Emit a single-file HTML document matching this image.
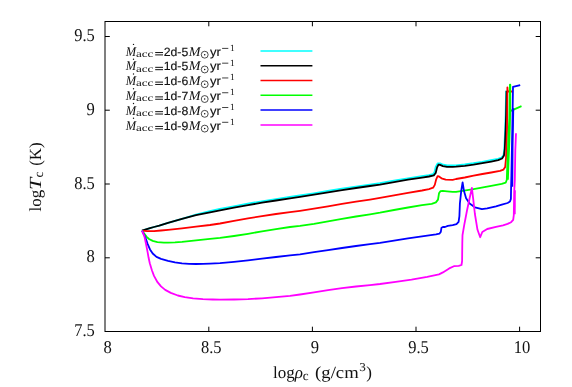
<!DOCTYPE html>
<html><head><meta charset="utf-8"><title>plot</title>
<style>
html,body{margin:0;padding:0;background:#fff;}
body{width:572px;height:387px;overflow:hidden;}
svg{display:block;will-change:transform;text-rendering:geometricPrecision;}
text{font-family:"Liberation Serif",serif;fill:#111;}
.ss{font-family:"Liberation Sans",sans-serif;stroke:#111;stroke-width:0.15px;}
.it{font-style:italic;}
</style></head><body>
<svg width="572" height="387" viewBox="0 0 572 387">
<rect x="0" y="0" width="572" height="387" fill="#fff"/>
<g transform="translate(0,0.3)">
<polyline points="142.0,230.3 150.0,227.9 154.0,226.7 159.3,225.3 168.0,222.6 182.0,218.6 195.9,214.4 209.8,210.9 219.7,208.7 233.7,206.0 247.7,203.4 261.8,201.0 275.8,198.8 289.8,196.6 299.8,195.2 313.8,193.0 327.8,190.6 341.8,188.4 355.8,186.3 369.8,184.3 379.8,182.9 393.8,180.4 407.8,178.0 421.8,175.9 428.7,174.8 433.1,173.8 434.4,172.1 435.7,166.6 437.6,163.2 440.6,163.2 443.3,164.4 447.2,165.1 452.7,165.2 455.9,165.0 464.6,164.1 473.4,162.9 482.2,161.5 490.9,159.9 497.8,158.5 501.5,157.4 503.5,155.1 504.3,148.5 505.1,130.0 505.6,115.0 506.1,90.5" fill="none" stroke="#00ffff" stroke-width="1.8" stroke-linejoin="round" stroke-linecap="butt"/>
<polyline points="142.0,230.3 150.0,227.9 154.0,226.7 159.3,225.3 168.0,222.6 182.0,218.6 196.0,214.9 210.0,212.0 220.0,210.1 234.0,207.4 248.0,204.8 262.0,202.4 276.0,200.2 290.0,198.0 300.0,196.6 314.0,194.4 328.0,192.0 342.0,189.8 356.0,187.7 370.0,185.7 380.0,184.3 394.0,181.8 408.0,179.4 422.0,177.3 429.0,176.2 433.8,175.1 435.7,172.7 437.1,167.1 438.5,164.3 440.1,164.6 442.9,165.8 447.1,166.5 452.7,166.6 456.0,166.4 464.8,165.5 473.6,164.3 482.4,162.9 491.2,161.3 498.2,159.9 502.1,158.2 504.0,155.2 504.8,148.5 505.6,130.0 506.1,115.0 506.6,90.5" fill="none" stroke="#000000" stroke-width="1.8" stroke-linejoin="round" stroke-linecap="butt"/>
<polyline points="142.0,230.3 147.2,230.9 154.0,230.8 161.0,230.2 168.0,229.6 182.0,228.1 196.0,226.4 210.0,224.7 220.0,223.2 234.0,220.5 248.0,218.1 262.0,215.8 276.0,213.7 290.0,211.8 300.0,210.5 314.0,208.4 328.0,206.0 342.0,203.6 356.0,201.4 370.0,199.3 380.0,197.6 394.0,195.1 408.0,192.5 422.0,190.2 429.0,188.8 433.1,187.4 434.8,184.6 436.2,179.0 437.6,175.9 439.0,176.2 441.5,178.0 445.7,179.3 452.7,179.5 456.0,178.7 464.8,177.2 473.6,175.4 482.4,173.7 491.2,172.2 500.0,170.6 503.5,169.3 505.2,166.6 506.0,158.0 506.5,145.0 507.0,130.0 507.4,87.0 507.7,91.2 512.0,91.2" fill="none" stroke="#ff0000" stroke-width="1.8" stroke-linejoin="round" stroke-linecap="butt"/>
<polyline points="142.0,230.3 144.4,233.4 146.4,236.3 149.0,238.7 152.7,240.6 157.4,241.8 163.9,242.3 168.0,242.3 175.0,242.1 182.0,241.6 196.0,240.1 210.0,238.5 220.0,237.6 234.0,235.7 248.0,233.5 262.0,231.1 276.0,228.8 290.0,226.7 300.0,225.6 314.0,223.5 328.0,221.0 342.0,218.6 356.0,216.2 370.0,214.0 380.0,212.4 394.0,209.7 408.0,207.2 422.0,204.9 431.7,203.5 435.9,202.1 438.0,199.3 439.0,193.0 440.4,190.9 442.9,190.6 447.1,191.0 452.7,191.6 456.0,191.6 473.6,188.8 491.2,185.6 501.7,183.6 505.7,182.4 506.8,179.5 507.2,168.0 508.3,140.0 509.3,118.0 509.9,84.4 510.3,84.4 510.2,110.8 521.5,105.9" fill="none" stroke="#00ff00" stroke-width="1.8" stroke-linejoin="round" stroke-linecap="butt"/>
<polyline points="510.2,110.8 509.9,125.0 509.4,140.0 508.3,168.0 507.9,179.5" fill="none" stroke="#00ff00" stroke-width="1.8" stroke-linejoin="round" stroke-linecap="butt"/>
<polyline points="142.0,230.3 145.3,237.0 147.6,243.5 150.0,249.1 152.7,253.2 156.5,256.6 161.0,258.6 168.0,260.6 175.0,262.1 182.0,263.0 189.0,263.5 196.0,263.7 203.0,263.5 210.0,263.3 220.0,262.9 234.0,261.5 248.0,260.1 262.0,258.4 276.0,256.7 290.0,255.0 300.0,254.0 314.0,251.9 328.0,249.8 342.0,247.7 356.0,245.7 370.0,243.8 380.0,242.6 394.0,240.4 408.0,238.1 422.0,236.0 436.0,234.1 439.4,233.4 440.8,231.6 441.5,227.4 442.9,226.7 445.0,226.7 447.8,225.6 452.7,224.8 456.5,223.8 458.6,221.6 459.4,215.8 459.9,203.2 461.2,190.8 462.6,182.0 464.0,190.8 466.1,197.9 469.6,203.2 474.9,207.0 481.9,208.8 487.2,208.1 496.0,206.0 501.8,204.4 507.6,202.7 510.0,201.2 510.9,198.6 511.1,187.0 511.4,175.0 512.0,145.0 512.5,118.0 513.0,86.6 520.2,84.8" fill="none" stroke="#0000ff" stroke-width="1.8" stroke-linejoin="round" stroke-linecap="butt"/>
<polyline points="513.3,108.0 512.6,145.0 512.3,186.4" fill="none" stroke="#0000ff" stroke-width="1.8" stroke-linejoin="round" stroke-linecap="butt"/>
<polyline points="142.0,230.3 144.4,236.1 146.2,244.5 147.6,251.9 148.6,257.5 149.8,263.0 151.9,270.0 154.0,275.6 157.5,281.9 161.0,286.1 165.2,289.6 170.8,292.6 177.8,295.2 184.8,296.8 193.1,298.0 202.9,298.8 212.7,299.2 220.0,299.4 234.0,299.2 248.0,298.8 262.0,298.0 276.0,296.9 290.0,295.6 300.0,294.2 314.0,292.0 328.0,289.8 342.0,287.8 356.0,286.2 370.0,284.8 380.0,283.7 395.7,281.5 411.5,279.3 427.2,276.5 439.0,274.1 442.9,272.1 449.2,268.1 453.9,265.9 458.7,265.5 461.5,264.7 462.1,260.7 462.3,243.0 462.5,234.8 464.3,224.3 467.0,210.2 469.6,197.9 471.9,187.7 473.1,197.9 474.9,213.7 477.5,229.5 480.2,236.9 482.3,231.7 487.2,228.7 496.0,226.6 503.0,225.0 507.6,223.6 511.1,221.9 513.2,219.5 513.8,214.9 514.2,191.6 514.8,180.0 515.3,150.0 516.0,133.0" fill="none" stroke="#ff00ff" stroke-width="1.8" stroke-linejoin="round" stroke-linecap="butt"/>
<polyline points="514.9,190.0 514.8,214.0" fill="none" stroke="#ff00ff" stroke-width="1.8" stroke-linejoin="round" stroke-linecap="butt"/>
</g>
<g stroke="#000" stroke-width="1" fill="none">
<rect x="105.0" y="21.5" width="435.5" height="310.0"/>
<line x1="208.8" y1="331.5" x2="208.8" y2="326.7"/>
<line x1="208.8" y1="21.5" x2="208.8" y2="26.3"/>
<line x1="312.4" y1="331.5" x2="312.4" y2="326.7"/>
<line x1="312.4" y1="21.5" x2="312.4" y2="26.3"/>
<line x1="416.0" y1="331.5" x2="416.0" y2="326.7"/>
<line x1="416.0" y1="21.5" x2="416.0" y2="26.3"/>
<line x1="519.6" y1="331.5" x2="519.6" y2="326.7"/>
<line x1="519.6" y1="21.5" x2="519.6" y2="26.3"/>
<line x1="105.0" y1="257.8" x2="109.8" y2="257.8"/>
<line x1="540.5" y1="257.8" x2="535.7" y2="257.8"/>
<line x1="105.0" y1="184.0" x2="109.8" y2="184.0"/>
<line x1="540.5" y1="184.0" x2="535.7" y2="184.0"/>
<line x1="105.0" y1="110.2" x2="109.8" y2="110.2"/>
<line x1="540.5" y1="110.2" x2="535.7" y2="110.2"/>
<line x1="105.0" y1="36.5" x2="109.8" y2="36.5"/>
<line x1="540.5" y1="36.5" x2="535.7" y2="36.5"/>
</g>
<text x="74.2" y="336.1" font-size="18.1" textLength="20.6" lengthAdjust="spacingAndGlyphs">7.5</text>
<text x="86.5" y="262.4" font-size="18.1" textLength="8.3" lengthAdjust="spacingAndGlyphs">8</text>
<text x="74.2" y="188.6" font-size="18.1" textLength="20.6" lengthAdjust="spacingAndGlyphs">8.5</text>
<text x="86.5" y="114.8" font-size="18.1" textLength="8.3" lengthAdjust="spacingAndGlyphs">9</text>
<text x="74.2" y="41.1" font-size="18.1" textLength="20.6" lengthAdjust="spacingAndGlyphs">9.5</text>
<text x="103.5" y="352.6" font-size="18.1" textLength="8.3" lengthAdjust="spacingAndGlyphs">8</text>
<text x="201.0" y="352.6" font-size="18.1" textLength="20.6" lengthAdjust="spacingAndGlyphs">8.5</text>
<text x="310.8" y="352.6" font-size="18.1" textLength="8.3" lengthAdjust="spacingAndGlyphs">9</text>
<text x="408.2" y="352.6" font-size="18.1" textLength="20.6" lengthAdjust="spacingAndGlyphs">9.5</text>
<text x="513.8" y="352.6" font-size="18.1" textLength="16.6" lengthAdjust="spacingAndGlyphs">10</text>
<text x="273" y="377.6" font-size="17">log<tspan class="it">ρ</tspan></text>
<text x="302.8" y="379.6" font-size="13.2">c</text>
<text x="315.1" y="377.6" font-size="17" textLength="43.6" lengthAdjust="spacingAndGlyphs">(g/cm</text>
<text x="359.2" y="370.6" font-size="12" textLength="6.6" lengthAdjust="spacingAndGlyphs">3</text>
<text x="366.3" y="377.6" font-size="17">)</text>
<g transform="translate(40.6,211.4) rotate(-90)"><text x="0" y="0" font-size="17">log</text><text class="it" x="21.4" y="0" font-size="17" textLength="12.2" lengthAdjust="spacingAndGlyphs" fill="#333">T</text><text x="34.0" y="2.4" font-size="13.2">c</text><text x="45.6" y="0" font-size="17" textLength="23.4" lengthAdjust="spacingAndGlyphs">(K)</text></g>
<line x1="260.5" y1="51.00" x2="312.4" y2="51.00" stroke="#00ffff" stroke-width="1.5"/>
<g><text class="it" x="125.7" y="55.70" font-size="13.4" textLength="10.4" lengthAdjust="spacingAndGlyphs">M</text><circle cx="133.5" cy="44.40" r="0.7" fill="#111"/><text x="135.9" y="56.90" font-size="9.8" textLength="17.4" lengthAdjust="spacingAndGlyphs">acc</text><path d="M155.2 52.55H163M155.2 54.90H163" stroke="#111" stroke-width="1.0" fill="none"/><text class="ss" x="163.7" y="55.70" font-size="12" textLength="24.6" lengthAdjust="spacingAndGlyphs">2d-5</text><text class="it" x="188.7" y="55.70" font-size="13.4" textLength="11.8" lengthAdjust="spacingAndGlyphs">M</text><circle cx="204.7" cy="54.70" r="3.45" fill="none" stroke="#111" stroke-width="0.75"/><circle cx="204.7" cy="54.70" r="0.75" fill="#111"/><text class="ss" x="210.0" y="55.70" font-size="12" stroke-width="0.3" textLength="10.9" lengthAdjust="spacingAndGlyphs">yr</text><path d="M222.1 48.40H228.3" stroke="#111" stroke-width="0.8" fill="none"/><text x="230.0" y="50.80" font-size="9.4">1</text></g>
<line x1="260.5" y1="65.78" x2="312.4" y2="65.78" stroke="#000000" stroke-width="1.5"/>
<g><text class="it" x="125.7" y="70.48" font-size="13.4" textLength="10.4" lengthAdjust="spacingAndGlyphs">M</text><circle cx="133.5" cy="59.18" r="0.7" fill="#111"/><text x="135.9" y="71.68" font-size="9.8" textLength="17.4" lengthAdjust="spacingAndGlyphs">acc</text><path d="M155.2 67.33H163M155.2 69.68H163" stroke="#111" stroke-width="1.0" fill="none"/><text class="ss" x="163.7" y="70.48" font-size="12" textLength="24.6" lengthAdjust="spacingAndGlyphs">1d-5</text><text class="it" x="188.7" y="70.48" font-size="13.4" textLength="11.8" lengthAdjust="spacingAndGlyphs">M</text><circle cx="204.7" cy="69.48" r="3.45" fill="none" stroke="#111" stroke-width="0.75"/><circle cx="204.7" cy="69.48" r="0.75" fill="#111"/><text class="ss" x="210.0" y="70.48" font-size="12" stroke-width="0.3" textLength="10.9" lengthAdjust="spacingAndGlyphs">yr</text><path d="M222.1 63.18H228.3" stroke="#111" stroke-width="0.8" fill="none"/><text x="230.0" y="65.58" font-size="9.4">1</text></g>
<line x1="260.5" y1="80.56" x2="312.4" y2="80.56" stroke="#ff0000" stroke-width="1.5"/>
<g><text class="it" x="125.7" y="85.26" font-size="13.4" textLength="10.4" lengthAdjust="spacingAndGlyphs">M</text><circle cx="133.5" cy="73.96" r="0.7" fill="#111"/><text x="135.9" y="86.46" font-size="9.8" textLength="17.4" lengthAdjust="spacingAndGlyphs">acc</text><path d="M155.2 82.11H163M155.2 84.46H163" stroke="#111" stroke-width="1.0" fill="none"/><text class="ss" x="163.7" y="85.26" font-size="12" textLength="24.6" lengthAdjust="spacingAndGlyphs">1d-6</text><text class="it" x="188.7" y="85.26" font-size="13.4" textLength="11.8" lengthAdjust="spacingAndGlyphs">M</text><circle cx="204.7" cy="84.26" r="3.45" fill="none" stroke="#111" stroke-width="0.75"/><circle cx="204.7" cy="84.26" r="0.75" fill="#111"/><text class="ss" x="210.0" y="85.26" font-size="12" stroke-width="0.3" textLength="10.9" lengthAdjust="spacingAndGlyphs">yr</text><path d="M222.1 77.96H228.3" stroke="#111" stroke-width="0.8" fill="none"/><text x="230.0" y="80.36" font-size="9.4">1</text></g>
<line x1="260.5" y1="95.34" x2="312.4" y2="95.34" stroke="#00ff00" stroke-width="1.5"/>
<g><text class="it" x="125.7" y="100.04" font-size="13.4" textLength="10.4" lengthAdjust="spacingAndGlyphs">M</text><circle cx="133.5" cy="88.74" r="0.7" fill="#111"/><text x="135.9" y="101.24" font-size="9.8" textLength="17.4" lengthAdjust="spacingAndGlyphs">acc</text><path d="M155.2 96.89H163M155.2 99.24H163" stroke="#111" stroke-width="1.0" fill="none"/><text class="ss" x="163.7" y="100.04" font-size="12" textLength="24.6" lengthAdjust="spacingAndGlyphs">1d-7</text><text class="it" x="188.7" y="100.04" font-size="13.4" textLength="11.8" lengthAdjust="spacingAndGlyphs">M</text><circle cx="204.7" cy="99.04" r="3.45" fill="none" stroke="#111" stroke-width="0.75"/><circle cx="204.7" cy="99.04" r="0.75" fill="#111"/><text class="ss" x="210.0" y="100.04" font-size="12" stroke-width="0.3" textLength="10.9" lengthAdjust="spacingAndGlyphs">yr</text><path d="M222.1 92.74H228.3" stroke="#111" stroke-width="0.8" fill="none"/><text x="230.0" y="95.14" font-size="9.4">1</text></g>
<line x1="260.5" y1="110.12" x2="312.4" y2="110.12" stroke="#0000ff" stroke-width="1.5"/>
<g><text class="it" x="125.7" y="114.82" font-size="13.4" textLength="10.4" lengthAdjust="spacingAndGlyphs">M</text><circle cx="133.5" cy="103.52" r="0.7" fill="#111"/><text x="135.9" y="116.02" font-size="9.8" textLength="17.4" lengthAdjust="spacingAndGlyphs">acc</text><path d="M155.2 111.67H163M155.2 114.02H163" stroke="#111" stroke-width="1.0" fill="none"/><text class="ss" x="163.7" y="114.82" font-size="12" textLength="24.6" lengthAdjust="spacingAndGlyphs">1d-8</text><text class="it" x="188.7" y="114.82" font-size="13.4" textLength="11.8" lengthAdjust="spacingAndGlyphs">M</text><circle cx="204.7" cy="113.82" r="3.45" fill="none" stroke="#111" stroke-width="0.75"/><circle cx="204.7" cy="113.82" r="0.75" fill="#111"/><text class="ss" x="210.0" y="114.82" font-size="12" stroke-width="0.3" textLength="10.9" lengthAdjust="spacingAndGlyphs">yr</text><path d="M222.1 107.52H228.3" stroke="#111" stroke-width="0.8" fill="none"/><text x="230.0" y="109.92" font-size="9.4">1</text></g>
<line x1="260.5" y1="124.90" x2="312.4" y2="124.90" stroke="#ff00ff" stroke-width="1.5"/>
<g><text class="it" x="125.7" y="129.60" font-size="13.4" textLength="10.4" lengthAdjust="spacingAndGlyphs">M</text><circle cx="133.5" cy="118.30" r="0.7" fill="#111"/><text x="135.9" y="130.80" font-size="9.8" textLength="17.4" lengthAdjust="spacingAndGlyphs">acc</text><path d="M155.2 126.45H163M155.2 128.80H163" stroke="#111" stroke-width="1.0" fill="none"/><text class="ss" x="163.7" y="129.60" font-size="12" textLength="24.6" lengthAdjust="spacingAndGlyphs">1d-9</text><text class="it" x="188.7" y="129.60" font-size="13.4" textLength="11.8" lengthAdjust="spacingAndGlyphs">M</text><circle cx="204.7" cy="128.60" r="3.45" fill="none" stroke="#111" stroke-width="0.75"/><circle cx="204.7" cy="128.60" r="0.75" fill="#111"/><text class="ss" x="210.0" y="129.60" font-size="12" stroke-width="0.3" textLength="10.9" lengthAdjust="spacingAndGlyphs">yr</text><path d="M222.1 122.30H228.3" stroke="#111" stroke-width="0.8" fill="none"/><text x="230.0" y="124.70" font-size="9.4">1</text></g>
</svg>
</body></html>
